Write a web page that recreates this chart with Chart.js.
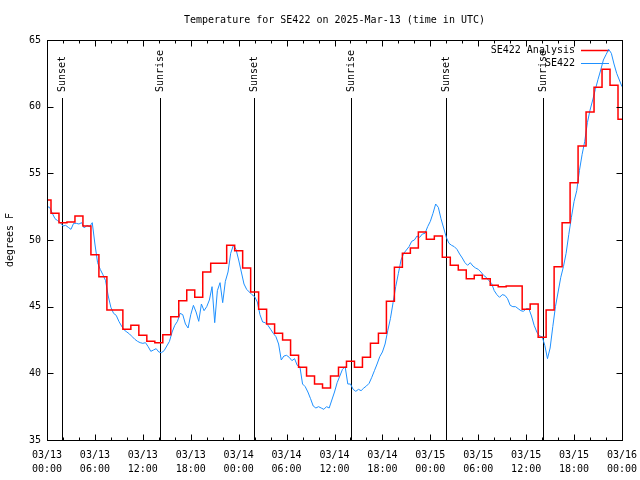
<!DOCTYPE html>
<html>
<head>
<meta charset="utf-8">
<script src="https://cdn.jsdelivr.net/npm/chart.js@4.4.0/dist/chart.umd.min.js"></script>
<style>
  html, body { margin: 0; padding: 0; background: #fff; }
  #chart { display: block; }
</style>
</head>
<body>
<canvas id="chart" width="640" height="480"></canvas>
<script>
// Hourly analysis values, hour 0 = 03/13 00:00 UTC
const analysisTemps = [
  53.0, 52.0, 51.3, 51.35, 51.8, 51.05, 48.9, 47.25, 44.75, 44.75,
  43.3, 43.6, 42.85, 42.4, 42.3, 42.9, 44.25, 45.45, 46.25, 45.7,
  47.6, 48.25, 48.25, 49.6, 49.2, 47.9, 46.1, 44.8, 43.7, 43.0,
  42.5, 41.35, 40.45, 39.8, 39.2, 38.9, 39.8, 40.45, 40.9, 40.45,
  41.2, 42.25, 43.0, 45.4, 47.95, 49.0, 49.4, 50.6, 50.05, 50.3,
  48.7, 48.1, 47.75, 47.1, 47.35, 47.1, 46.6, 46.5, 46.55, 46.55,
  44.8, 45.2, 42.7, 44.75, 48.0, 51.3, 54.3, 57.05, 59.6, 61.45,
  62.8, 61.6, 59.05
];

// Station observations, one every 20 minutes from 03/13 00:00 UTC
const obsStepHours = 1 / 3;
const obsTemps = [
  52.5, 52.45, 52.0, 51.6, 51.45, 51.3, 51.05, 51.1, 50.95, 50.8,
  51.25, 51.25, 51.2, 51.3, 50.9, 51.1, 51.0, 51.3, 49.7, 48.3,
  47.8, 47.4, 46.95, 45.8, 44.95, 44.5, 44.35, 43.9, 43.55, 43.25,
  43.1, 42.95, 42.75, 42.55, 42.4, 42.3, 42.25,
  42.3, 42.0, 41.65, 41.75, 41.85, 41.6, 41.55, 41.7, 42.05, 42.4,
  43.1, 43.6, 43.9, 44.5, 44.4, 43.7, 43.4, 44.4, 45.1, 44.6,
  43.9, 45.2, 44.7, 45.0, 45.5, 46.5, 43.8, 46.2, 46.8, 45.3,
  46.9, 47.6, 49.0, 49.6, 49.3, 48.5,
  47.6, 46.7, 46.3, 46.1, 45.9, 45.75, 45.35, 44.4, 43.85, 43.8,
  43.6, 43.3, 43.0, 42.75, 42.2, 41.0, 41.3, 41.35, 41.2, 40.95,
  41.1, 40.6, 40.5, 39.2, 39.0, 38.6, 38.1, 37.55, 37.4, 37.5,
  37.4, 37.3, 37.5, 37.4, 38.0, 38.6,
  39.3, 39.8, 40.3, 40.5, 39.2, 39.2, 38.8, 38.65, 38.8, 38.7,
  38.9, 39.05, 39.25, 39.7, 40.2, 40.7, 41.25, 41.6, 42.2, 43.2,
  44.1, 45.3, 46.5, 47.5, 48.5, 49.0, 49.25, 49.5, 49.9, 50.0,
  50.3, 50.2, 50.45, 50.5, 51.0, 51.4,
  52.0, 52.7, 52.45, 51.6, 50.9, 50.2, 49.75, 49.6, 49.5, 49.3,
  48.95, 48.65, 48.3, 48.1, 48.3, 48.05, 47.9, 47.8, 47.6, 47.35,
  47.2, 46.95, 46.75, 46.2, 45.9, 45.7, 45.9, 45.85, 45.6, 45.1,
  45.0, 45.0, 44.85, 44.7, 44.65, 44.85,
  44.85, 44.3, 43.6, 43.1, 42.8, 42.75, 42.1, 41.1, 41.9, 43.5,
  45.0, 46.1, 47.2, 48.0, 49.0, 50.4, 51.7, 52.9, 53.7, 55.2,
  56.4, 57.4, 58.8, 59.75, 60.5, 61.3, 62.05, 62.75, 63.5, 63.9,
  64.3, 64.0, 63.2, 62.5, 62.0, 61.5
];

// Sunrise / sunset markers (hours after 03/13 00:00 UTC)
const sunLabels = ["Sunset", "Sunrise", "Sunset", "Sunrise", "Sunset", "Sunrise"];
const sunHours = [1.93, 14.19, 25.96, 38.11, 49.99, 62.12];

// x tick labels, every 6 hours
const tickDates = ["03/13", "03/13", "03/13", "03/13", "03/14", "03/14", "03/14",
                   "03/14", "03/15", "03/15", "03/15", "03/15", "03/16"];
const tickTimes = ["00:00", "06:00", "12:00", "18:00", "00:00", "06:00", "12:00",
                   "18:00", "00:00", "06:00", "12:00", "18:00", "00:00"];

const seriesNames = ["SE422 Analysis", "SE422"];
const seriesColors = ["#ff0000", "#1e90ff"];

const monoFont = "'DejaVu Sans Mono', 'Liberation Mono', monospace";
Chart.defaults.font.family = monoFont;
Chart.defaults.font.size = 10;
Chart.defaults.color = "#000";

// gnuplot style frame: border, inward ticks, sun lines, legend
const gnuFrame = {
  id: "gnuFrame",
  beforeDatasetsDraw(chart) {
    const { ctx, chartArea: a, scales: { x } } = chart;
    ctx.save();
    ctx.strokeStyle = "#000";
    ctx.fillStyle = "#000";
    ctx.lineWidth = 1;
    ctx.font = "10px " + monoFont;

    sunHours.forEach((h, i) => {
      const px = Math.round(x.getPixelForValue(h)) + 0.5;
      ctx.beginPath();
      ctx.moveTo(px, a.top + 58);
      ctx.lineTo(px, a.bottom);
      ctx.stroke();
      ctx.save();
      ctx.translate(px, a.top + 52);
      ctx.rotate(-Math.PI / 2);
      ctx.textAlign = "left";
      ctx.textBaseline = "middle";
      ctx.fillText(sunLabels[i], 0, 0);
      ctx.restore();
    });

    // legend (top right, text then line sample)
    chart.data.datasets.forEach((ds, i) => {
      const ly = a.top + 10 + i * 13;
      ctx.textAlign = "right";
      ctx.textBaseline = "middle";
      ctx.fillText(ds.label, a.right - 47, ly);
      ctx.strokeStyle = ds.borderColor;
      ctx.lineWidth = ds.borderWidth;
      ctx.beginPath();
      ctx.moveTo(a.right - 41, ly + 0.5);
      ctx.lineTo(a.right - 13, ly + 0.5);
      ctx.stroke();
    });
    ctx.restore();
  },
  afterDatasetsDraw(chart) {
    const { ctx, chartArea: a, scales: { x, y } } = chart;
    const l = a.left + 0.5, r = a.right + 0.5, t = a.top + 0.5, b = a.bottom + 0.5;
    ctx.save();
    ctx.strokeStyle = "#000";
    ctx.lineWidth = 1;
    ctx.beginPath();
    // x ticks: major every 6 h, minor every 2 h, bottom and top
    for (let h = 0; h <= 72; h += 2) {
      const px = Math.round(x.getPixelForValue(h)) + 0.5;
      const len = h % 6 === 0 ? 6 : 3;
      ctx.moveTo(px, b); ctx.lineTo(px, b - len);
      ctx.moveTo(px, t); ctx.lineTo(px, t + len);
    }
    // y ticks every 5 degrees, left and right
    for (let v = 35; v <= 65; v += 5) {
      const py = Math.round(y.getPixelForValue(v)) + 0.5;
      ctx.moveTo(l, py); ctx.lineTo(l + 6, py);
      ctx.moveTo(r, py); ctx.lineTo(r - 6, py);
    }
    ctx.stroke();
    ctx.strokeRect(l, t, a.right - a.left, a.bottom - a.top);
    ctx.restore();
  }
};

new Chart(document.getElementById("chart"), {
  type: "line",
  data: {
    datasets: [
      {
        label: seriesNames[0],
        data: analysisTemps.map((t, i) => ({ x: i, y: t })),
        borderColor: seriesColors[0],
        borderWidth: 1.5,
        stepped: "middle",
        pointRadius: 0,
        fill: false
      },
      {
        label: seriesNames[1],
        data: obsTemps.map((t, i) => ({ x: i * obsStepHours, y: t })),
        borderColor: seriesColors[1],
        borderWidth: 1,
        pointRadius: 0,
        tension: 0,
        fill: false
      }
    ]
  },
  options: {
    responsive: false,
    animation: false,
    devicePixelRatio: 1,
    layout: { padding: { left: 0, right: 18, top: 0, bottom: 0 } },
    scales: {
      x: {
        type: "linear",
        min: 0,
        max: 72,
        afterFit: s => {
          s.height = 40;
          s.paddingLeft = 0;
          s.paddingRight = 0;
        },
        grid: { display: false, drawTicks: false },
        border: { display: false },
        ticks: {
          stepSize: 6,
          autoSkip: false,
          maxRotation: 0,
          padding: 8,
          font: { size: 10, lineHeight: 1.4 },
          callback: (v, i) => [tickDates[i], tickTimes[i]]
        }
      },
      y: {
        min: 35,
        max: 65,
        afterFit: s => {
          s.width = 47;
          s.paddingTop = 0;
          s.paddingBottom = 0;
        },
        grid: { display: false, drawTicks: false },
        border: { display: false },
        ticks: { stepSize: 5, padding: 6 },
        title: {
          display: true,
          text: "degrees F",
          padding: { top: 4, bottom: 0 },
          font: { size: 10 }
        }
      }
    },
    plugins: {
      legend: { display: false },
      tooltip: { enabled: false },
      title: {
        display: true,
        text: "Temperature for SE422 on 2025-Mar-13 (time in UTC)",
        fullSize: false,
        color: "#000",
        padding: { top: 14, bottom: 14 },
        font: { size: 10, weight: "normal" }
      }
    }
  },
  plugins: [gnuFrame]
});
</script>
</body>
</html>
